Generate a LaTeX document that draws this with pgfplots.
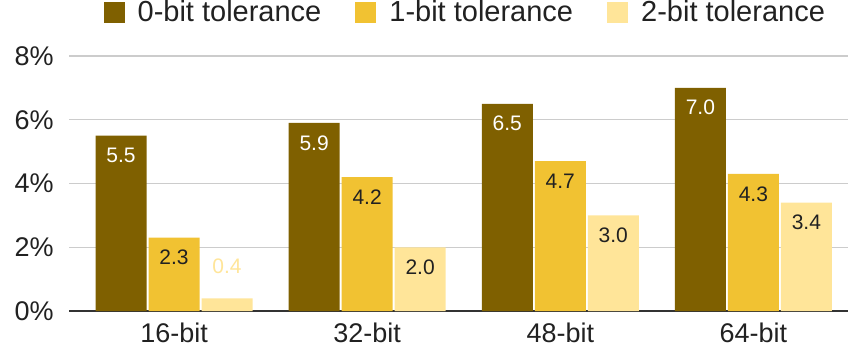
\documentclass[border=0pt]{standalone}
\usepackage{fontspec}
\setmainfont{Liberation Sans}
\usepackage{pgfplots}
\pgfplotsset{compat=1.18}
\definecolor{c1}{HTML}{7F6000}
\definecolor{c2}{HTML}{F1C232}
\definecolor{c3}{HTML}{FFE599}
\definecolor{txt}{HTML}{212121}
\pgfplotsset{sq/.style={legend image code/.code={\fill[##1] (0pt,-5.25pt) rectangle (10.5pt,5.25pt);}}}

\begin{document}
\begin{tikzpicture}
\path[use as bounding box] (-34.5pt,-19pt) rectangle (390.5pt,155.5pt);
\begin{axis}[
    scale only axis, width=389.5pt, height=127.5pt,
    at={(0,0)}, anchor=south west,
    ybar=1pt, bar width=25.5pt,
    xmin=-0.544, xmax=3.49, ymin=0, ymax=8,
    xtick={0,1,2,3}, xticklabels={16-bit,32-bit,48-bit,64-bit},
    ytick={0,2,4,6,8},
    yticklabel={\pgfmathprintnumber{\tick}\%},
    /pgf/number format/assume math mode=true,
    ymajorgrids, grid style={draw=black!20, line width=0.6pt},
    axis x line*=bottom, axis y line*=left,
    y axis line style={draw=none},
    x axis line style={draw=black!80, line width=0.8pt, -},
    major tick length=0pt, tick style={draw=none},
    ticklabel style={font=\fontsize{13.5}{16}\selectfont, text=txt},
    yticklabel style={inner sep=0pt, xshift=-7.5pt},
    xticklabel style={inner sep=0pt, yshift=-6pt},
    nodes near coords={\pgfmathprintnumber[fixed, fixed zerofill, precision=1]{\pgfplotspointmeta}},
    every node near coord/.append style={anchor=north, inner sep=0pt, yshift=-6pt,
        font=\fontsize{10.5}{12}\selectfont},
    legend columns=3,
    legend style={draw=none, fill=none, at={(0.51,1.169)}, anchor=center,
        font=\fontsize{14.5}{17}\selectfont, text=txt,
        /tikz/every odd column/.append style={column sep=4.5pt},
        /tikz/every even column/.append style={column sep=15pt}},
]
\addplot[sq, fill=c1, draw=none, every node near coord/.append style={text=white}]
    coordinates {(0,5.5) (1,5.9) (2,6.5) (3,7.0)};
\addlegendentry{0-bit tolerance}
\addplot[sq, fill=c2, draw=none, every node near coord/.append style={text=txt}]
    coordinates {(0,2.3) (1,4.2) (2,4.7) (3,4.3)};
\addlegendentry{1-bit tolerance}
\addplot[sq, fill=c3, draw=none,
    coordinate style/.condition={\coordindex==0}{yshift=26pt, text=c3},
    coordinate style/.condition={\coordindex>0}{text=txt}]
    coordinates {(0,0.4) (1,2.0) (2,3.0) (3,3.4)};
\addlegendentry{2-bit tolerance}
\end{axis}
\end{tikzpicture}
\end{document}
